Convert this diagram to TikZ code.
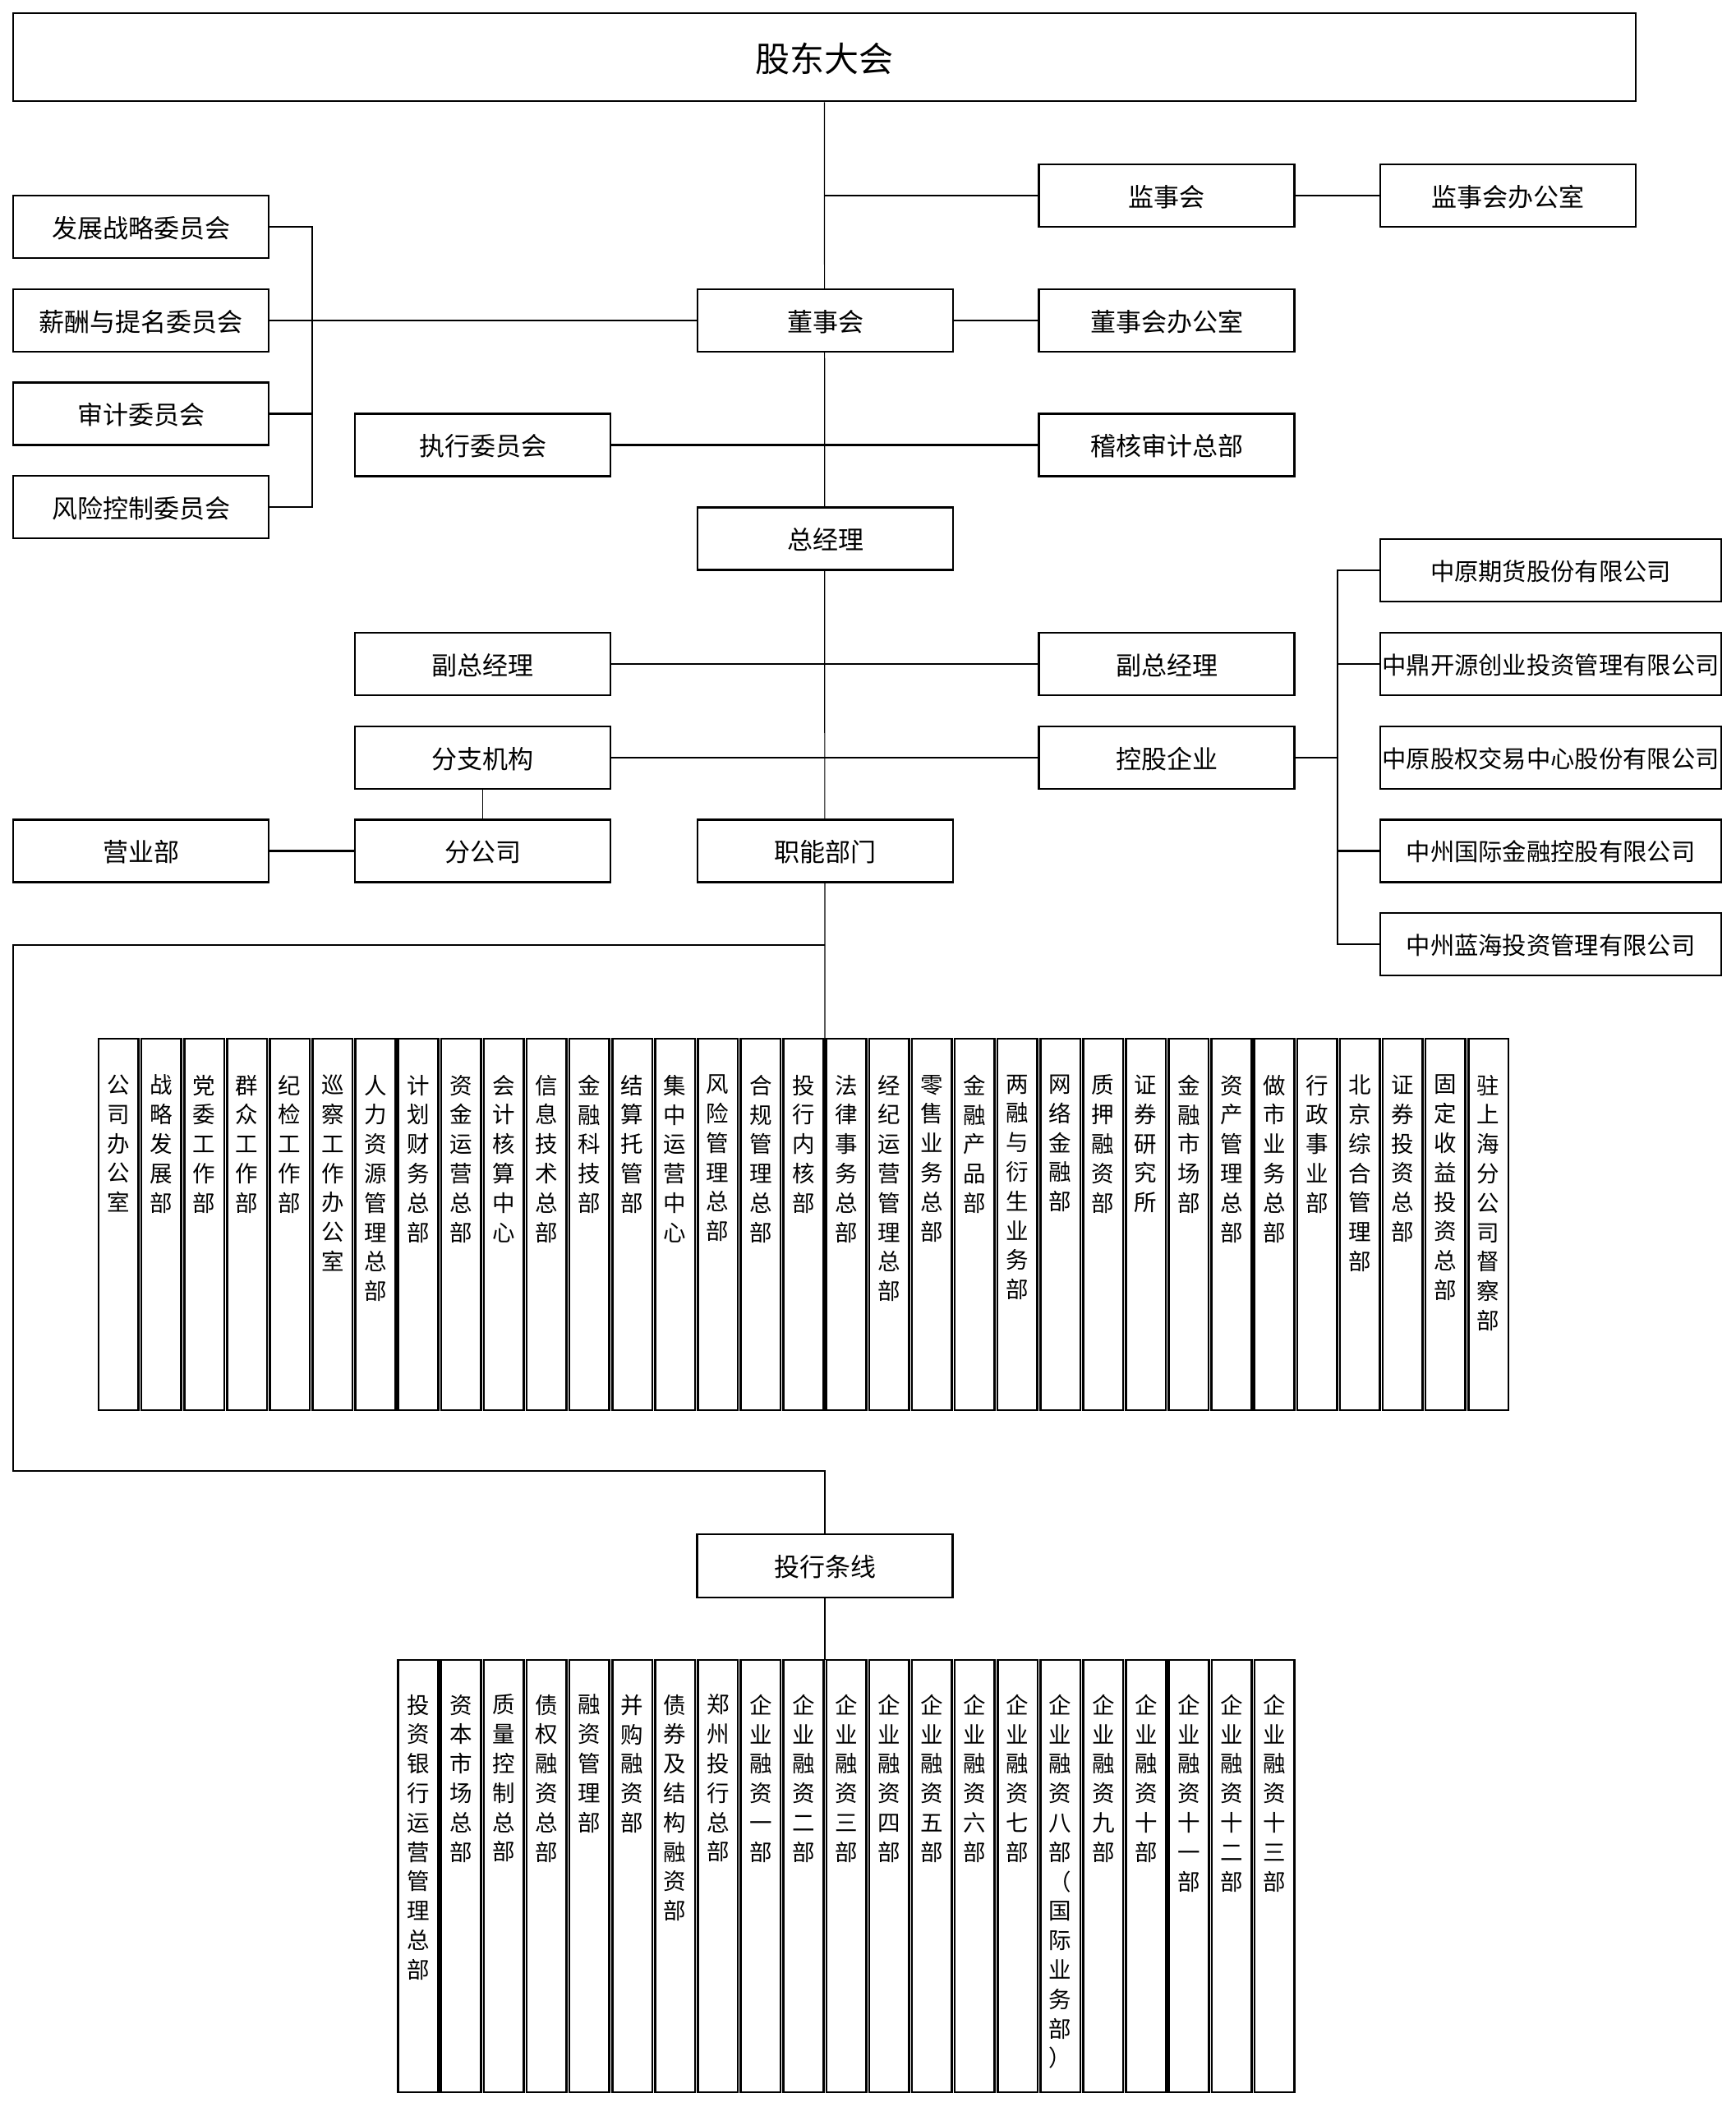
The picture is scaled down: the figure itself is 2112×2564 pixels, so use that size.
\documentclass[tikz,border=0pt]{standalone}
\usepackage{fontspec}
\setmainfont{Noto Sans CJK SC}
\usetikzlibrary{backgrounds}
\def\vtxt#1#2\vtend{#1\ifx\relax#2\relax\else\\\vtxt#2\vtend\fi}
\begin{document}
\begin{tikzpicture}[x=1pt,y=-1pt,
  box/.style={draw, line width=2.6pt, fill=white, inner sep=0pt, minimum width=311pt, minimum height=76pt, text depth=0pt, font=\fontsize{31}{36}\selectfont},
  cobox/.style={box, minimum width=415pt, font=\fontsize{29.3}{34}\selectfont},
  colbox/.style={draw, line width=2.6pt, fill=white, inner sep=0pt, minimum width=48.6pt, font=\fontsize{27.5}{35.8}\selectfont},
  conn/.style={line width=2.2pt},
  spine/.style={line width=1.2pt}]
\useasboundingbox (0,0) rectangle (2112,2564);

% top
\node[box, minimum width=1975pt, minimum height=107pt, font=\fontsize{42}{48}\selectfont] (gd) at (1003.5,69.5) {股东大会};
\node[box] (jsh) at (1420,238) {监事会};
\node[box] (jsb) at (1835.5,238) {监事会办公室};
\node[box] (dsh) at (1004.5,390) {董事会};
\node[box] (dsb) at (1420,390) {董事会办公室};
\node[box] (zx) at (587.5,541.5) {执行委员会};
\node[box] (jh) at (1420,541.5) {稽核审计总部};
\node[box] (wy1) at (171.5,276) {发展战略委员会};
\node[box] (wy2) at (171.5,390) {薪酬与提名委员会};
\node[box] (wy3) at (171.5,503.5) {审计委员会};
\node[box] (wy4) at (171.5,617) {风险控制委员会};
\node[box] (zjl) at (1004.5,655.5) {总经理};
\node[box] (fz1) at (587.5,808) {副总经理};
\node[box] (fz2) at (1420,808) {副总经理};
\node[box] (fzjg) at (587.5,922) {分支机构};
\node[box] (kg) at (1420,922) {控股企业};
\node[box] (yyb) at (171.5,1035.5) {营业部};
\node[box] (fgs) at (587.5,1035.5) {分公司};
\node[box] (znbm) at (1004.5,1035.5) {职能部门};
\node[cobox] (co1) at (1887.5,694) {中原期货股份有限公司};
\node[cobox] (co2) at (1887.5,808) {中鼎开源创业投资管理有限公司};
\node[cobox] (co3) at (1887.5,922) {中原股权交易中心股份有限公司};
\node[cobox] (co4) at (1887.5,1035.5) {中州国际金融控股有限公司};
\node[cobox] (co5) at (1887.5,1149) {中州蓝海投资管理有限公司};
\node[box, minimum height=77pt] (tx) at (1004,1905.3) {投行条线};

% functional departments
\foreach \t [count=\i from 0] in {公司办公室,战略发展部,党委工作部,群众工作部,纪检工作部,巡察工作办公室,人力资源管理总部,计划财务总部,资金运营总部,会计核算中心,信息技术总部,金融科技部,结算托管部,集中运营中心,风险管理总部,合规管理总部,投行内核部,法律事务总部,经纪运营管理总部,零售业务总部,金融产品部,两融与衍生业务部,网络金融部,质押融资部,证券研究所,金融市场部,资产管理总部,做市业务总部,行政事业部,北京综合管理部,证券投资总部,固定收益投资总部,驻上海分公司督察部}{%
  \node[colbox] (a\i) at ({120+52.1*\i+24.3},1490) {\parbox[c][452pt][t]{40pt}{\centering\vspace*{44pt}\expandafter\vtxt\t\vtend}};
}
% investment banking departments
\foreach \t [count=\i from 0] in {投资银行运营管理总部,资本市场总部,质量控制总部,债权融资总部,融资管理部,并购融资部,债券及结构融资部,郑州投行总部,企业融资一部,企业融资二部,企业融资三部,企业融资四部,企业融资五部,企业融资六部,企业融资七部,企业融资八部（国际业务部）,企业融资九部,企业融资十部,企业融资十一部,企业融资十二部,企业融资十三部}{%
  \node[colbox] (b\i) at ({484.6+52.12*\i+24.3},2283) {\parbox[c][526pt][t]{40pt}{\centering\vspace*{42pt}\expandafter\vtxt\t\vtend}};
}

\coordinate (r1top) at (1004,1264);
\coordinate (r2top) at (1004,2020);
\coordinate (brk) at (380,0);
\coordinate (cbx) at (1628,0);
\coordinate (lpA) at (1004,1150);
\coordinate (lpB) at (16,1150);
\coordinate (lpC) at (16,1790);
\coordinate (lpD) at (1004,1790);

\begin{scope}[on background layer]
\draw[spine] (gd.south) -- (r1top);
\draw[conn] (gd.south |- jsh.west) -- (jsh.west);
\draw[conn] (jsh.east) -- (jsb.west);
\draw[conn] (dsh.east) -- (dsb.west);
\draw[conn] (wy2.east) -- (dsh.west);
\draw[conn] (wy1.east) -- (wy1.east -| brk) -- (wy4.east -| brk) -- (wy4.east);
\draw[conn] (wy3.east) -- (wy3.east -| brk);
\draw[conn] (zx.east) -- (jh.west);
\draw[conn] (fz1.east) -- (fz2.west);
\draw[conn] (fzjg.east) -- (kg.west);
\draw[spine] (fzjg.south) -- (fgs.north);
\draw[conn] (yyb.east) -- (fgs.west);
\draw[conn] (kg.east) -- (kg.east -| cbx);
\draw[conn] (co1.west) -- (co1.west -| cbx) -- (co5.west -| cbx) -- (co5.west);
\draw[conn] (co2.west) -- (co2.west -| cbx);
\draw[conn] (co4.west) -- (co4.west -| cbx);
\draw[conn] (lpA) -- (lpB) -- (lpC) -- (lpD) -- (tx.north);
\draw[conn] (tx.south) -- (r2top);
\end{scope}
\end{tikzpicture}
\end{document}
